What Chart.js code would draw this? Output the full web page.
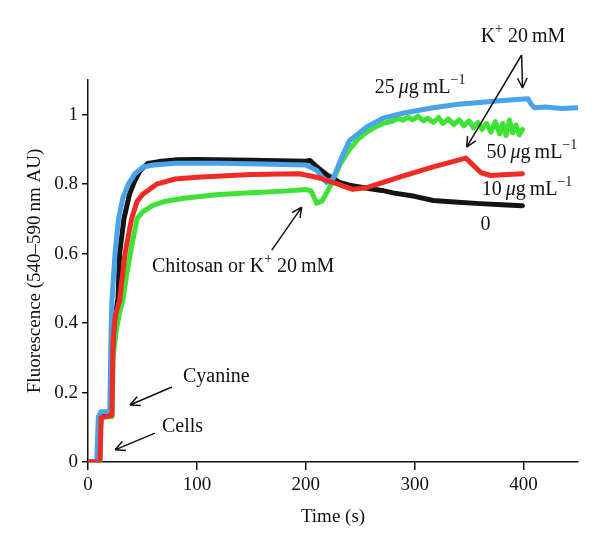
<!DOCTYPE html>
<html>
<head>
<meta charset="utf-8">
<script src="https://cdn.jsdelivr.net/npm/chart.js@4.4.1/dist/chart.umd.min.js"></script>
<style>
  html, body { margin: 0; padding: 0; background: #fff; }
</style>
</head>
<body>
<canvas id="fluorescenceChart" width="600" height="552"></canvas>
<script>
const xTicks = [0, 100, 200, 300, 400];
const yTicks = [0, 0.2, 0.4, 0.6, 0.8, 1];

// 0 (control)
const blackTime = [0, 10, 12, 21, 22, 24, 27.5, 29, 33, 38, 43, 48, 55, 65, 80, 100, 150, 200, 204, 210, 220, 231, 240, 259, 270, 280, 300, 317, 340, 360, 380, 399];
const blackValues = [0, 0, 0.14, 0.14, 0.3, 0.4, 0.47, 0.6, 0.7, 0.77, 0.81, 0.84, 0.86, 0.865, 0.87, 0.871, 0.869, 0.866, 0.868, 0.85, 0.826, 0.805, 0.797, 0.787, 0.782, 0.775, 0.765, 0.753, 0.748, 0.744, 0.741, 0.738];

// 25 ug/mL
const blueTime = [0, 8, 9.5, 12, 20, 21, 22, 24.8, 28, 32, 37, 43, 51, 60, 80, 120, 160, 200, 210, 219, 225, 232, 240, 256, 271, 290, 317, 340, 360, 378, 404, 407, 410, 420, 435, 449];
const blueValues = [0, 0, 0.13, 0.145, 0.145, 0.35, 0.466, 0.6, 0.7, 0.76, 0.8, 0.83, 0.85, 0.855, 0.86, 0.86, 0.858, 0.855, 0.84, 0.805, 0.815, 0.87, 0.925, 0.965, 0.99, 1.005, 1.02, 1.03, 1.035, 1.04, 1.046, 1.03, 1.02, 1.022, 1.018, 1.02];

// 10 ug/mL
const redTime = [0, 11, 12, 22, 23, 25, 29, 34, 40, 45, 50, 63, 80, 100, 150, 194, 210, 225, 243, 256, 286, 317, 347, 352, 361, 370, 385, 399];
const redValues = [0, 0, 0.127, 0.135, 0.35, 0.42, 0.466, 0.6, 0.7, 0.75, 0.77, 0.8, 0.815, 0.82, 0.828, 0.83, 0.82, 0.805, 0.785, 0.79, 0.82, 0.85, 0.875, 0.86, 0.833, 0.825, 0.828, 0.83];

// 50 ug/mL
const greenTime = [0, 11, 12, 22, 23, 26, 29, 32, 36, 40, 45, 50, 60, 70, 90, 120, 150, 180, 200, 205, 210, 215, 220, 225, 232, 240, 248, 256, 264, 271, 280, 285, 289, 294, 298, 303, 308, 312, 317, 322, 326, 331, 336, 341, 345, 350, 354, 358, 362, 366, 370, 374, 378, 381, 384, 387, 390, 393, 396, 399];
const greenValues = [0, 0, 0.13, 0.13, 0.3, 0.38, 0.43, 0.466, 0.55, 0.62, 0.7, 0.72, 0.74, 0.75, 0.76, 0.77, 0.775, 0.78, 0.785, 0.78, 0.745, 0.752, 0.78, 0.81, 0.86, 0.9, 0.93, 0.95, 0.965, 0.975, 0.982, 0.99, 0.984, 0.993, 0.985, 0.996, 0.982, 0.99, 0.978, 0.992, 0.975, 0.988, 0.972, 0.985, 0.968, 0.982, 0.962, 0.978, 0.958, 0.975, 0.95, 0.98, 0.945, 0.975, 0.94, 0.985, 0.948, 0.97, 0.942, 0.958];

const seriesNames = ["10 µg/mL", "25 µg/mL", "0", "50 µg/mL"];
const seriesColors = ["#ee2b25", "#4aa2e8", "#141414", "#3ee234"];

const serifFont = '"Liberation Serif", "DejaVu Serif", serif';

function toPoints(times, values) {
  return times.map((t, i) => ({ x: t, y: values[i] }));
}

// annotation texts and arrows, in data units
const textNotes = [
  { x: 360.6, y: 1.224, parts: [["K"], ["+", "sup"], [" 20\u2009mM"]] },
  { x: 263.3, y: 1.077, parts: [["25\u2009"], ["\u03bc", "it"], ["g\u2009mL"], ["\u22121", "sup"]] },
  { x: 366, y: 0.89, parts: [["50\u2009"], ["\u03bc", "it"], ["g\u2009mL"], ["\u22121", "sup"]] },
  { x: 361.5, y: 0.783, parts: [["10\u2009"], ["\u03bc", "it"], ["g\u2009mL"], ["\u22121", "sup"]] },
  { x: 360.5, y: 0.682, parts: [["0"]] },
  { x: 58.7, y: 0.561, parts: [["Chitosan or K"], ["+", "sup"], [" 20\u2009mM"]] },
  { x: 87.2, y: 0.245, parts: [["Cyanine"]] },
  { x: 67.9, y: 0.101, parts: [["Cells"]] },
];

const arrowNotes = [
  { from: [398.2, 1.172], to: [399.1, 1.077] },
  { from: [398.2, 1.172], to: [347.7, 0.907] },
  { from: [168.8, 0.61], to: [196.3, 0.734] },
  { from: [77.1, 0.216], to: [38.5, 0.164] },
  { from: [61.5, 0.083], to: [24.8, 0.035] },
];

function drawRich(ctx, parts, x, y) {
  let cx = x;
  parts.forEach(([text, kind]) => {
    const size = kind === "sup" ? 14 : 20;
    ctx.font = `${kind === "it" ? "italic " : ""}${size}px ${serifFont}`;
    ctx.fillText(text, cx, kind === "sup" ? y - 8 : y);
    cx += ctx.measureText(text).width;
  });
}

const notesPlugin = {
  id: "notes",
  afterDraw(chart) {
    const { ctx, scales } = chart;
    const px = (v) => scales.x.getPixelForValue(v);
    const py = (v) => scales.y.getPixelForValue(v);

    ctx.save();
    ctx.fillStyle = "#111";
    ctx.textBaseline = "middle";
    ctx.textAlign = "left";
    textNotes.forEach((note) => drawRich(ctx, note.parts, px(note.x), py(note.y)));

    ctx.strokeStyle = "#111";
    ctx.lineWidth = 1.5;
    arrowNotes.forEach((arrow) => {
      const x1 = px(arrow.from[0]);
      const y1 = py(arrow.from[1]);
      const x2 = px(arrow.to[0]);
      const y2 = py(arrow.to[1]);
      const angle = Math.atan2(y2 - y1, x2 - x1);
      ctx.beginPath();
      ctx.moveTo(x1, y1);
      ctx.lineTo(x2, y2);
      [-0.45, 0.45].forEach((spread) => {
        ctx.moveTo(x2, y2);
        ctx.lineTo(x2 - 11 * Math.cos(angle + spread), y2 - 11 * Math.sin(angle + spread));
      });
      ctx.stroke();
    });
    ctx.restore();
  },
};

// first dataset is painted on top
const seriesData = [
  toPoints(redTime, redValues),
  toPoints(blueTime, blueValues),
  toPoints(blackTime, blackValues),
  toPoints(greenTime, greenValues),
];

new Chart(document.querySelector("#fluorescenceChart"), {
  type: "line",
  data: {
    datasets: seriesData.map((points, i) => ({
      label: seriesNames[i],
      data: points,
      borderColor: seriesColors[i],
      borderWidth: 5,
      pointRadius: 0,
      tension: 0,
      borderJoinStyle: "round",
      borderCapStyle: "round",
    })),
  },
  options: {
    responsive: false,
    animation: false,
    layout: {
      padding: { left: 20, right: 22, top: 80, bottom: 20 },
    },
    plugins: {
      legend: { display: false },
      tooltip: { enabled: false },
    },
    scales: {
      x: {
        type: "linear",
        min: 0,
        max: 450,
        afterBuildTicks: (scale) => {
          scale.ticks = xTicks.map((value) => ({ value }));
        },
        afterFit: (scale) => {
          scale.height = 70;
        },
        border: { color: "#111", width: 1.5 },
        grid: { drawOnChartArea: false, drawTicks: true, tickLength: 8, color: "#111", lineWidth: 1.5 },
        ticks: {
          color: "#111",
          padding: 4,
          maxRotation: 0,
          font: { family: serifFont, size: 19 },
          callback: (value) => String(value),
        },
        title: {
          display: true,
          text: "Time (s)",
          color: "#111",
          font: { family: serifFont, size: 19 },
        },
      },
      y: {
        min: 0,
        max: 1.1,
        afterBuildTicks: (scale) => {
          scale.ticks = yTicks.map((value) => ({ value }));
        },
        afterFit: (scale) => {
          scale.width = 68;
        },
        border: { color: "#111", width: 1.5 },
        grid: { drawOnChartArea: false, drawTicks: true, tickLength: 6, color: "#111", lineWidth: 1.5 },
        ticks: {
          color: "#111",
          padding: 4,
          font: { family: serifFont, size: 19 },
          callback: (value) => String(value),
        },
        title: {
          display: true,
          text: "Fluorescence (540\u2013590\u2009nm AU)",
          color: "#111",
          font: { family: serifFont, size: 19 },
        },
      },
    },
  },
  plugins: [notesPlugin],
});
</script>
</body>
</html>
